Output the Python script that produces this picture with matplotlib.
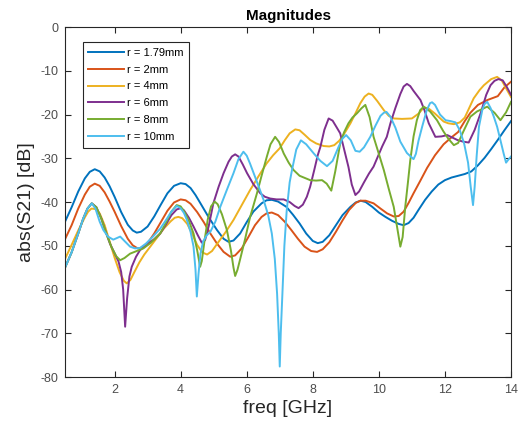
import matplotlib
matplotlib.use('Agg')
import matplotlib.pyplot as plt

plt.rcParams['font.family'] = ['Liberation Sans', 'DejaVu Sans']
plt.rcParams['axes.unicode_minus'] = False

labels = ['r = 1.79mm', 'r = 2mm', 'r = 4mm', 'r = 6mm', 'r = 8mm', 'r = 10mm']
colors = ['#0072BD', '#D95319', '#EDB120', '#7E2F8E', '#77AC30', '#4DBEEE']

# r = 1.79mm
f_179 = [0.5, 0.7, 0.9, 1.1, 1.25, 1.4, 1.55, 1.7, 1.85, 2.0, 2.2, 2.4, 2.55, 2.67, 2.8, 3.0,
         3.2, 3.4, 3.6, 3.8, 4.0, 4.15, 4.3, 4.45, 4.6, 4.85, 5.1, 5.3, 5.45, 5.6, 5.8,
         6.0, 6.2, 6.45, 6.6, 6.76, 6.95, 7.2, 7.4, 7.6, 7.8, 8.0, 8.15, 8.3, 8.5, 8.7,
         8.9, 9.14, 9.3, 9.45, 9.6, 9.8, 10.0, 10.2, 10.4, 10.6, 10.75, 10.9, 11.05, 11.2,
         11.4, 11.6, 11.8, 12.0, 12.2, 12.4, 12.6, 12.8, 13.0, 13.2, 13.4, 13.6, 13.8, 14.0]
s_179 = [-44.5, -41.2, -37.6, -34.6, -33.1, -32.5, -33.0, -34.4, -36.4, -38.8, -42.3, -45.2, -46.5, -47.0, -46.8, -45.6,
         -43.3, -40.6, -38.0, -36.3, -35.7, -35.9, -36.8, -38.4, -40.3, -43.5, -46.4, -48.4, -49.1, -48.8, -47.2,
         -44.6, -42.2, -40.3, -39.6, -39.5, -39.9, -41.1, -42.9, -44.9, -47.2, -48.9, -49.4, -49.1, -47.6, -45.3,
         -43.0, -41.1, -40.1, -39.7, -40.0, -41.1, -42.4, -43.4, -44.3, -45.0, -45.3, -44.8, -43.6, -41.8,
         -39.5, -37.6, -36.0, -35.0, -34.4, -34.0, -33.6, -33.0, -31.6, -29.9, -27.9, -25.8, -23.6, -21.5]

# r = 2mm
f_2 = [0.5, 0.7, 0.9, 1.1, 1.25, 1.4, 1.55, 1.7, 1.85, 2.0, 2.2, 2.4, 2.55, 2.7, 2.85, 3.0,
       3.2, 3.4, 3.6, 3.8, 4.0, 4.15, 4.3, 4.5, 4.7, 4.9, 5.1, 5.3, 5.5, 5.65, 5.85,
       6.05, 6.25, 6.45, 6.6, 6.76, 6.95, 7.15, 7.35, 7.55, 7.75, 7.95, 8.13, 8.3, 8.5, 8.7,
       8.9, 9.1, 9.3, 9.44, 9.6, 9.84, 10.05, 10.25, 10.45, 10.6, 10.75, 10.9, 11.05, 11.25,
       11.46, 11.7, 11.96, 12.2, 12.4, 12.6, 12.77, 13.0, 13.28, 13.6, 13.8, 14.0]
s_2 = [-48.5, -45.3, -41.5, -38.3, -36.5, -35.8, -36.3, -37.8, -39.9, -42.2, -45.5, -48.4, -49.9, -50.6, -50.4, -49.4,
       -47.2, -44.6, -42.0, -40.1, -39.4, -39.6, -40.4, -42.3, -44.6, -47.2, -49.5, -51.4, -52.5, -52.2, -50.6,
       -48.0, -45.3, -43.4, -42.6, -42.4, -43.0, -44.5, -46.4, -48.4, -50.2, -51.2, -51.4, -50.8, -49.2, -46.8,
       -44.2, -41.8, -40.2, -39.7, -39.7, -40.3, -41.5, -42.6, -43.3, -43.2, -42.2, -40.2, -38.0, -35.2,
       -32.2, -29.3, -26.8, -25.2, -24.0, -21.5, -19.6, -17.8, -16.7, -15.8, -13.8, -12.5]

# r = 4mm
f_4 = [0.5, 0.7, 0.9, 1.1, 1.2, 1.3, 1.42, 1.55, 1.7, 1.85, 2.0, 2.15, 2.28, 2.37, 2.48, 2.6,
       2.75, 2.9, 3.1, 3.3, 3.5, 3.7, 3.82, 3.93, 4.05, 4.2, 4.35, 4.5, 4.65, 4.8, 4.95,
       5.1, 5.35, 5.6, 5.85, 6.1, 6.35, 6.6, 6.8, 7.0, 7.15, 7.3, 7.47, 7.6, 7.75, 7.92,
       8.1, 8.33, 8.5, 8.65, 8.8, 8.95, 9.14, 9.3, 9.44, 9.57, 9.69, 9.8, 9.95, 10.15,
       10.3, 10.45, 10.7, 11.0, 11.2, 11.36, 11.5, 11.7, 11.96, 12.1, 12.27, 12.45, 12.6,
       12.87, 13.05, 13.18, 13.4, 13.58, 13.72, 13.88, 14.0]
s_4 = [-53.0, -49.8, -46.5, -43.5, -42.2, -41.5, -41.6, -42.6, -45.3, -49.0, -52.7, -56.0, -58.0, -58.6, -57.8, -56.0,
       -53.8, -52.0, -50.0, -48.0, -46.0, -44.4, -43.6, -43.4, -43.7, -45.0, -47.3, -49.8, -51.5, -52.0, -51.2,
       -49.6, -47.0, -44.1, -40.7, -37.3, -34.2, -31.2, -29.3, -27.7, -25.9, -24.3, -23.4, -23.6, -24.6, -25.8,
       -26.6, -27.2, -27.3, -27.0, -26.0, -24.4, -22.0, -19.6, -17.4, -15.9, -15.2, -15.5, -16.9, -19.0,
       -20.3, -20.9, -21.0, -20.9, -19.8, -18.4, -18.6, -19.8, -21.6, -22.0, -22.2, -21.8, -20.7,
       -16.3, -14.4, -13.3, -11.9, -11.4, -12.2, -14.4, -16.0]

# r = 6mm
f_6 = [0.5, 0.7, 0.9, 1.05, 1.18, 1.31, 1.45, 1.6, 1.75, 1.86, 2.0, 2.12, 2.2, 2.26, 2.32, 2.38,
       2.45, 2.52, 2.65, 2.77, 3.0, 3.2, 3.38, 3.55, 3.72, 3.88, 4.0, 4.1, 4.25, 4.39, 4.52,
       4.64, 4.74, 4.85, 4.99, 5.15, 5.3, 5.45, 5.55, 5.65, 5.75, 5.88, 6.01, 6.2, 6.41, 6.55,
       6.71, 6.9, 7.12, 7.3, 7.45, 7.57, 7.7, 7.82, 7.92, 8.05, 8.15, 8.23, 8.35, 8.48, 8.6,
       8.72, 8.83, 8.95, 9.08, 9.18, 9.29, 9.4, 9.55, 9.7, 9.84, 10.1, 10.24, 10.35, 10.5, 10.65,
       10.75, 10.85, 10.95, 11.05, 11.15, 11.26, 11.38, 11.51, 11.71, 11.9, 12.07, 12.37,
       12.55, 12.72, 12.9, 13.08, 13.25, 13.38, 13.5, 13.62, 13.75, 13.88, 14.0]
s_6 = [-55.0, -51.5, -47.2, -43.8, -41.5, -40.3, -41.2, -43.8, -47.2, -49.5, -51.7, -53.6, -56.0, -60.0, -68.5, -62.0,
       -57.0, -54.8, -52.5, -51.0, -49.6, -48.5, -47.2, -45.2, -43.0, -41.7, -41.4, -41.9, -43.6, -45.6, -47.6,
       -49.3, -48.7, -45.5, -40.3, -36.5, -33.4, -30.8, -29.6, -29.1, -29.6, -31.4, -33.4, -35.9, -38.0, -38.8,
       -39.2, -39.4, -39.4, -40.0, -40.9, -41.4, -40.6, -38.8, -36.5, -32.5, -29.3, -27.4, -23.5, -20.9, -21.4,
       -22.9, -24.3, -28.0, -32.0, -36.0, -38.4, -37.6, -35.5, -33.5, -31.9, -27.3, -25.1, -22.0, -18.5, -15.3,
       -13.6, -13.0, -13.5, -14.6, -15.6, -16.7, -19.0, -22.0, -25.1, -25.0, -24.7, -25.8,
       -26.2, -26.4, -23.5, -19.7, -15.5, -13.3, -12.3, -11.9, -12.2, -13.8, -15.5]

# r = 8mm
f_8 = [0.5, 0.7, 0.9, 1.05, 1.18, 1.31, 1.45, 1.6, 1.75, 1.9, 2.05, 2.17, 2.3, 2.47, 2.67, 2.87,
       3.1, 3.38, 3.55, 3.72, 3.88, 4.0, 4.12, 4.25, 4.39, 4.5, 4.59, 4.64, 4.72, 4.82, 4.92,
       5.03, 5.12, 5.25, 5.4, 5.52, 5.6, 5.65, 5.72, 5.82, 5.95, 6.1, 6.31, 6.45, 6.61, 6.72,
       6.86, 6.98, 7.12, 7.27, 7.42, 7.6, 7.92, 8.1, 8.28, 8.42, 8.56, 8.68, 8.83, 8.95, 9.08,
       9.2, 9.34, 9.47, 9.59, 9.72, 9.84, 10.0, 10.15, 10.3, 10.45, 10.58, 10.65, 10.72, 10.8,
       10.88, 10.95, 11.05, 11.15, 11.25, 11.36, 11.55, 11.76, 11.95, 12.1, 12.27, 12.4, 12.55,
       12.77, 12.97, 13.28, 13.5, 13.68, 13.85, 14.0]
s_8 = [-55.0, -51.5, -47.2, -43.8, -41.5, -40.3, -41.2, -43.8, -47.2, -50.2, -52.4, -53.3, -52.8, -51.8, -51.2, -50.6,
       -49.3, -47.2, -44.8, -42.2, -40.7, -41.0, -42.3, -44.3, -47.2, -51.0, -54.8, -53.5, -49.0, -44.0, -41.0,
       -39.9, -40.5, -42.8, -46.4, -51.0, -55.0, -56.9, -55.5, -52.5, -48.5, -43.5, -38.0, -34.0, -29.6, -26.8,
       -25.1, -26.3, -28.9, -31.0, -32.7, -34.0, -35.0, -35.1, -35.0, -35.8, -37.4, -33.0, -26.6, -24.0, -22.0,
       -20.7, -19.7, -18.6, -17.8, -20.6, -25.1, -29.0, -32.7, -37.0, -41.1, -47.0, -50.2, -48.0, -41.0,
       -35.5, -30.5, -25.0, -21.3, -19.0, -18.2, -19.3, -21.3, -23.8, -25.5, -27.0, -26.5, -24.0,
       -20.5, -19.3, -18.2, -19.6, -21.3, -19.5, -17.1]

# r = 10mm
f_10 = [0.5, 0.7, 0.9, 1.05, 1.18, 1.31, 1.42, 1.55, 1.66, 1.8, 1.96, 2.08, 2.17, 2.3, 2.47, 2.62,
        2.77, 2.95, 3.15, 3.38, 3.55, 3.72, 3.88, 4.0, 4.1, 4.19, 4.3, 4.39, 4.45, 4.49, 4.54,
        4.6, 4.68, 4.79, 4.9, 5.05, 5.2, 5.4, 5.6, 5.75, 5.9, 6.0, 6.1, 6.21, 6.36, 6.51,
        6.65, 6.76, 6.85, 6.92, 6.97, 7.0, 7.03, 7.08, 7.14, 7.21, 7.3, 7.37, 7.5, 7.64, 7.8,
        8.03, 8.23, 8.43, 8.6, 8.78, 8.9, 9.01, 9.15, 9.29, 9.42, 9.55, 9.74, 9.9,
        10.05, 10.15, 10.23, 10.35, 10.5, 10.65, 10.85, 11.05, 11.12, 11.2, 11.31, 11.45,
        11.55, 11.61, 11.7, 11.85, 12.02, 12.17, 12.32, 12.45, 12.58, 12.7, 12.78, 12.85, 12.9,
        12.96, 13.03, 13.13, 13.2, 13.28, 13.38, 13.48, 13.58, 13.7, 13.78, 13.85, 13.92, 14.0]
s_10 = [-55.0, -51.5, -47.2, -43.8, -41.5, -40.3, -41.5, -44.5, -46.4, -47.9, -48.6, -48.2, -47.9, -48.9, -50.2, -50.6,
        -50.5, -49.5, -48.0, -46.1, -44.2, -42.2, -40.9, -41.4, -42.5, -44.1, -46.8, -50.2, -55.5, -61.6, -56.5,
        -51.8, -49.0, -47.6, -46.8, -44.5, -41.1, -37.2, -33.4, -30.2, -28.5, -29.4, -31.2, -33.4, -36.4, -39.5,
        -43.0, -47.2, -53.0, -61.0, -70.0, -77.6, -70.0, -61.0, -50.0, -42.0, -35.5, -32.7, -28.0, -25.9, -26.8,
        -28.9, -30.6, -31.8, -30.6, -27.4, -25.5, -24.7, -25.9, -28.3, -28.5, -27.5, -25.1, -22.5,
        -20.3, -19.6, -19.4, -20.5, -23.0, -26.2, -28.8, -30.2, -29.0, -26.0, -22.8, -19.0,
        -17.4, -17.2, -17.8, -20.0, -21.3, -21.5, -21.8, -23.6, -26.6, -31.0, -36.5, -40.7, -36.5,
        -29.5, -22.8, -19.0, -17.6, -17.1, -18.5, -20.5, -22.8, -26.5, -29.0, -31.0, -30.3, -29.6]

freqs = [f_179, f_2, f_4, f_6, f_8, f_10]
mags = [s_179, s_2, s_4, s_6, s_8, s_10]

fig = plt.figure(figsize=(5.26, 4.23), dpi=100)
ax = fig.add_axes([0.1236, 0.1087, 0.8479, 0.8274])

for f, s, c, lab in zip(freqs, mags, colors, labels):
    ax.plot(f, s, color=c, lw=1.4, label=lab)

ax.set_xlim(0.5, 14)
ax.set_ylim(-80, 0)
ax.set_xticks(range(2, 15, 2))
ax.set_yticks(range(-80, 1, 10))
ax.tick_params(direction='in', top=True, right=True, length=4, width=0.8,
               labelsize=9, colors='#262626', labelcolor='#4d4d4d', pad=5)
for sp in ax.spines.values():
    sp.set_color('#262626')
    sp.set_linewidth(0.8)

ax.set_title('Magnitudes', fontsize=11, fontweight='bold', pad=5)
ax.set_xlabel('freq [GHz]', fontsize=14, color='#262626', labelpad=3)
ax.set_ylabel('abs(S21) [dB]', fontsize=14, color='#262626', labelpad=4)

leg = ax.legend(loc='upper left', bbox_to_anchor=(0.04, 0.957), fontsize=8,
                fancybox=False, framealpha=1, edgecolor='#262626',
                borderaxespad=0, labelspacing=0.62, handlelength=3.2, handletextpad=0.3,
                borderpad=0.5)
leg.get_frame().set_linewidth(0.8)

fig.savefig('out.png', dpi=100)
